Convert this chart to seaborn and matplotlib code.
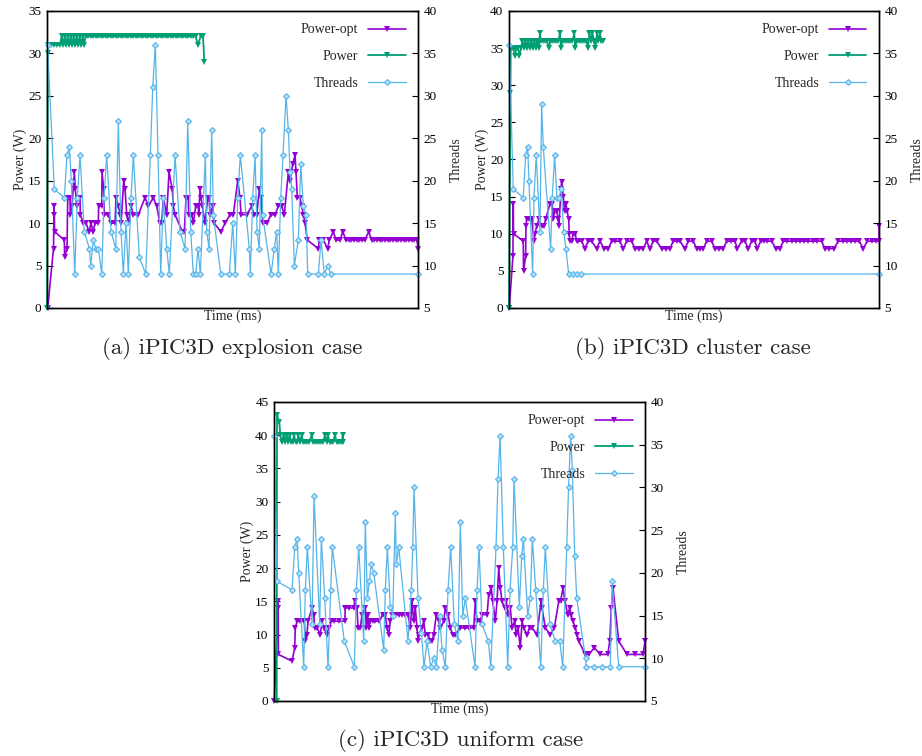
import matplotlib
matplotlib.use("Agg")
import matplotlib.pyplot as plt
from matplotlib.lines import Line2D
import seaborn as sns

# ---------------- (a) explosion case ----------------
a_pwr_t = [0, 0.7, 1.2, 4, 7, 10, 13, 14.5, 16, 17.5, 19, 20.5, 22, 23.5, 25, 26.5, 28, 29.5, 31, 32.5,
           34, 35.5, 37, 38.5, 41, 43.5, 46, 48.5, 51, 53.5, 56, 58.5, 61, 63.5, 66, 68.5, 71, 73.5, 76,
           78.5, 81, 83.5, 86, 88.5, 91, 93.5, 96, 98.5, 101, 103.5, 106, 108.5, 111, 113.5, 116, 118.5,
           121, 123.5, 126, 128.5, 131, 133.5, 136, 138.5, 141, 143.5, 146, 148.5, 151, 153.5, 156, 157.3]
a_pwr_w = [0, 30, 31, 31, 31, 31, 31, 32, 31, 32, 31, 32, 31, 32, 31, 32, 31, 32, 31, 32,
           31, 32, 31, 32, 32, 32, 32, 32, 32, 32, 32, 32, 32, 32, 32, 32, 32, 32, 32,
           32, 32, 32, 32, 32, 32, 32, 32, 32, 32, 32, 32, 32, 32, 32, 32, 32,
           32, 32, 32, 32, 32, 32, 32, 32, 32, 32, 32, 32, 31, 32, 32, 29]

a_opt_t = [0.7, 6.5, 7, 7.3, 7.6, 17.3, 17.6, 20, 20.7, 23, 23.3, 25, 27.3, 28.3, 29.7, 31, 33, 33.3,
           36.3, 39, 42, 44, 46, 48, 51.3, 51.6, 54.7, 55, 56.7, 57.3, 61.3, 64, 68, 69, 71.3, 73.3,
           74, 76.7, 78, 79.7, 81.3, 84, 86.3, 91.3, 98, 101.3, 106.3, 109.7, 113, 114.7, 116.3,
           119.7, 122, 125.3, 126.3, 128, 135.3, 137.3, 139, 141.3, 141.6, 144.7, 146.3, 148.7,
           151.3, 151.6, 153, 154, 155.3, 158, 160.7, 162, 163, 165.7, 167, 174, 178, 183, 186.3,
           190.7, 193, 194, 199.7, 204.7, 206.7, 209.7, 212.3, 214, 215.7, 219.7, 224, 228, 231.3,
           234.7, 237.3, 241.3, 243, 245.7, 248, 249, 250.3, 253, 254.7, 256.3, 258, 260.3, 271.3,
           272.3, 276.3, 280.7, 282.3, 286.3, 289, 293, 295.7, 299, 301.7, 304.3, 307, 309.7, 312.3,
           315, 317.7, 321.7, 324.7, 327.3, 330, 332.7, 335.3, 338, 340.7, 343.3, 346, 348.7, 351.3,
           354, 356.7, 359.3, 362, 364.7, 367.3, 370, 371]
a_opt_w = [0, 7, 12, 11, 9, 8, 6, 7, 13, 13, 11, 12, 16, 14, 12, 13, 13, 11,
           10, 10, 9, 10, 9, 10, 10, 12, 12, 16, 14, 11, 11, 10, 10, 13, 12, 11,
           10, 15, 14, 11, 10, 12, 11, 11, 13, 12, 13, 12, 10, 10, 13,
           11, 16, 14, 12, 11, 9, 9, 13, 13, 11, 11, 10, 12,
           12, 11, 14, 13, 12, 10, 13, 13, 11, 12, 10, 9, 10, 11, 11,
           15, 13, 11, 11, 12, 11, 11, 14, 13, 10, 10, 11, 11, 12,
           12, 11, 16, 15, 17, 18, 16, 13, 13, 12, 11, 10, 8, 7,
           8, 8, 7, 8, 9, 8, 8, 9, 8, 8, 8, 8, 8, 8,
           8, 8, 9, 8, 8, 8, 8, 8, 8, 8, 8, 8, 8, 8,
           8, 8, 8, 8, 8, 8, 8, 7]

a_thr_t = [0.5, 7.3, 17.3, 20, 22.3, 24.3, 27.7, 30.3, 33, 37.3, 42.3, 43.7, 46.3, 48.7, 51.3, 54.7,
           57, 59.7, 64, 68.7, 71.3, 74, 76.3, 79, 81.3, 84, 86.3, 92.3, 98.7, 103.3, 105.7, 108.3,
           111, 113.7, 116.3, 119.7, 122.3, 128, 133, 138, 140.7, 143.7, 146.3, 148.7, 151, 153.3,
           158.3, 159.7, 162, 164.7, 166.3, 173.7, 182.3, 185.7, 188.3, 190.7, 193.3, 202.3, 203.3,
           205.7, 208, 210, 212.3, 214.7, 215.5, 224, 227.3, 229.7, 231.3, 233.7, 236, 239, 241.3,
           243, 244.7, 247.3, 251.3, 253.7, 256.3, 259, 260.7, 271.3, 274, 277.3, 280.7, 283.7, 371]
a_thr_n = [36, 19, 18, 23, 24, 20, 9, 18, 23, 14, 12, 10, 13, 12, 12, 9, 18, 23, 14, 12,
           27, 14, 9, 15, 9, 18, 23, 11, 9, 23, 31, 36, 23, 9, 18, 12, 9, 23, 14, 12,
           27, 14, 9, 9, 12, 9, 23, 14, 12, 26, 16, 9, 9, 15, 9, 18, 23, 12, 9, 18,
           23, 14, 12, 26, 16, 9, 12, 14, 9, 18, 23, 30, 26, 21, 19, 10, 13, 22, 17, 16,
           9, 9, 13, 9, 10, 9, 9]

# ---------------- (b) cluster case ----------------
b_pwr_t = [0, 1.5, 1.8, 3, 4.5, 6, 7.5, 9, 10.5, 12, 13.5, 15, 16.5, 18, 19.5, 21, 22.5, 24, 25.5, 27,
           28.5, 30, 31, 32, 34, 36, 38, 40, 41.5, 43.5, 45.5, 47.5, 49.5, 51, 52, 53.5, 55.5, 57.5,
           59.5, 61.5, 63.5, 65.3, 66.3, 67.5, 69.5, 71.5, 73.5, 75.5, 77.5, 79, 80.5, 82, 83.5, 85,
           86.5, 88, 89.5, 91, 92.5, 94]
b_pwr_w = [0, 29, 35, 35, 35, 34, 35, 35, 34, 35, 36, 35, 36, 35, 36, 35, 36, 35, 36, 35,
           36, 35, 37, 36, 36, 36, 36, 35, 36, 36, 36, 36, 36, 37, 35, 36, 36, 36,
           36, 36, 36, 37, 35, 36, 36, 36, 36, 36, 36, 35, 37, 36, 37, 36,
           35, 37, 36, 37, 36, 36]

b_opt_t = [0.3, 4, 4.3, 4.6, 14.3, 14.6, 16.7, 17, 17.7, 20, 22.7, 25, 26, 27.7, 30, 32.7, 35, 36.7,
           41, 43.3, 44.3, 45.7, 47.7, 49.3, 50, 52, 52.7, 54.3, 55.7, 57, 58.3, 59.7, 60.3, 61,
           62.7, 64.3, 66.3, 67.7, 69.3, 72.7, 76, 79.3, 82.7, 87.7, 91, 95, 99.3, 102.7, 106, 111,
           114.3, 117.7, 122.7, 126, 130.3, 134.3, 137.7, 141, 144.3, 147.7, 152.7, 157, 161, 164.3,
           168.3, 171, 176, 179.3, 184.3, 187.7, 191, 194.3, 197.7, 202.7, 206, 210.3, 214.3, 217.7,
           221.7, 226, 228.3, 232.7, 236, 239.3, 242.7, 246, 248.3, 251.7, 255, 258.3, 262.7, 267,
           271, 274.3, 278.3, 282.7, 287, 291, 295, 299.3, 303.7, 307.7, 312.7, 316, 320.3, 325,
           329.3, 333.7, 337.7, 341.7, 346, 350.3, 354.3, 358.3, 362.7, 367, 370, 370.3]
b_opt_w = [0, 7, 14, 10, 9, 5, 7, 11, 12, 12, 12, 9, 10, 11, 12, 11, 11, 12,
           14, 14, 12, 13, 13, 12, 11, 16, 17, 15, 13, 14, 13, 12, 10, 9,
           9, 10, 10, 9, 9, 9, 8, 9, 9, 8, 9, 8, 8, 9, 9, 9,
           8, 9, 9, 8, 8, 8, 9, 8, 9, 9, 8, 8, 8, 9,
           9, 9, 8, 9, 9, 8, 8, 8, 9, 9, 8, 8, 8, 9,
           9, 9, 8, 9, 9, 8, 9, 9, 8, 9, 9, 9, 9, 8,
           8, 9, 9, 9, 9, 9, 9, 9, 9, 9, 9, 8, 8, 8,
           9, 9, 9, 9, 9, 9, 8, 9, 9, 9, 9, 11]

b_thr_t = [0.3, 4.3, 14.3, 16.7, 18.7, 20, 23.7, 25, 27.3, 31, 32.7, 34.3, 41.7, 43.3, 45.7, 48, 50,
           52.3, 54.7, 57, 59.7, 63.7, 67.7, 72, 370]
b_thr_n = [36, 19, 18, 23, 24, 20, 9, 18, 23, 14, 29, 24, 12, 18, 23, 18, 18,
           19, 14, 12, 9, 9, 9, 9, 9]

# ---------------- (c) uniform case ----------------
c_pwr_t = [2.7, 3, 5.3, 6.3, 8, 9.5, 11, 12.5, 14, 15.5, 17, 18.5, 20, 21.5, 23, 24.3, 26, 27.7, 29,
           31, 33, 35, 37.7, 39, 41, 43, 45, 47, 49, 51, 52.5, 54, 55.5, 57, 59, 61, 62.5, 64, 66,
           68, 68.7, 69.3]
c_pwr_w = [0, 43, 42, 40, 39, 40, 39, 40, 39, 40, 39, 39, 40, 39, 39, 40, 39, 40, 39,
           39, 39, 39, 40, 39, 39, 39, 39, 39, 39, 40, 39, 40, 39, 39, 39, 40, 39, 39, 39,
           39, 40, 39]

c_opt_t = [0.3, 4, 4.2, 4.4, 18, 20.7, 21.3, 23, 26.3, 30.3, 31.3, 33, 34, 38, 39.7, 40.7, 43, 46.3,
           48, 49.7, 53, 54.7, 57.3, 60.3, 65, 70.7, 71.3, 75, 79.7, 80.7, 83, 84, 86.3, 88, 91.3,
           92.3, 93.5, 94.7, 96.3, 99, 101.3, 105, 108.7, 111.3, 113, 114.7, 116.3, 118, 121.3,
           124.7, 128, 131, 134, 136.3, 138, 139.7, 141.3, 143, 144, 144.7, 148, 149.7, 151.3, 154,
           156.3, 158, 159.7, 162.3, 164.7, 166.3, 169.7, 171.3, 174, 176.3, 178.7, 181.3, 186.3,
           191.3, 195, 199.7, 201.3, 203, 206.3, 208, 213, 214.7, 217.3, 218.7, 221.3, 223, 224.7,
           226.3, 228, 230.7, 232.3, 234, 236.3, 238, 240.7, 242, 244, 246.3, 248, 249.7, 253,
           255.5, 258, 263, 267, 268, 271.3, 276.3, 280.3, 284.7, 286.5, 289, 291, 293.7, 295.7,
           297, 299, 301.3, 303, 304.7, 311.3, 314.7, 320.3, 326.3, 333.7, 335.7, 337.3, 339,
           344.7, 353, 361.3, 369, 371]
c_opt_w = [0, 15, 14, 7, 6, 8, 11, 12, 12, 12, 9, 10, 12, 14, 13, 11, 11, 10,
           12, 11, 10, 11, 12, 12, 12, 12, 14, 14, 14, 15, 14, 11, 11, 13, 14,
           11, 13, 11, 12, 12, 12, 12, 13, 13, 11, 10, 12, 13, 13,
           13, 13, 13, 13, 11, 15, 12, 14, 11, 9, 10, 11, 12, 10, 10,
           9, 9, 10, 13, 12, 11, 12, 14, 13, 11, 10, 10, 11,
           11, 11, 11, 15, 12, 12, 13, 13, 16, 17, 15, 12, 15, 20,
           17, 15, 14, 15, 13, 14, 11, 12, 10, 11, 8, 12, 11, 10,
           11, 11, 10, 15, 14, 11, 10, 11, 15, 15, 17, 15, 13, 14,
           13, 12, 11, 10, 9, 7, 7, 8, 7, 7, 9, 14, 17,
           9, 7, 7, 7, 9]

c_thr_t = [0.3, 3, 18, 20.7, 23, 24.7, 29.7, 31.3, 33.3, 38, 40, 45.7, 47.3, 50.7, 54, 56.7, 58.3,
           70.3, 80.3, 82.3, 84.7, 89.7, 91.3, 93.3, 95.3, 97.3, 99.7, 109.7, 111.3, 113.3, 116.3,
           118.7, 121.3, 122.3, 124.7, 134, 137.3, 138.7, 140, 144, 147.3, 150, 153, 156.7, 159.7,
           162.3, 165.7, 168, 171.3, 174, 176.7, 180.3, 184, 186.3, 188.7, 191.3, 201, 203, 205,
           208, 214.3, 216.7, 222, 224, 226, 229.3, 233.7, 236, 238.7, 240, 245.3, 247.7, 249.3,
           253.7, 256.3, 258.3, 261.7, 266.7, 269.3, 271.3, 275.7, 281.3, 285.7, 288.7, 292.7,
           294.5, 296.7, 298.3, 300.7, 302.7, 311.5, 312, 319.7, 328, 336.3, 338, 344.7, 371]
c_thr_n = [36, 19, 18, 23, 24, 20, 9, 18, 23, 14, 29, 14, 24, 17, 9, 18, 23,
           12, 9, 18, 23, 12, 26, 17, 19, 21, 20, 11, 18, 23, 16,
           15, 27, 21, 23, 12, 18, 23, 30, 17, 13, 9, 12, 9, 10,
           9, 15, 11, 9, 18, 23, 14, 12, 26, 15, 17, 9, 18, 23,
           14, 12, 9, 23, 31, 36, 23, 9, 18, 23, 31, 16, 22, 24,
           15, 17, 24, 18, 9, 18, 23, 14, 12, 12, 9, 23,
           30, 36, 32, 22, 17, 10, 9, 9, 9, 9, 19, 9, 9]

captions = ["(a) iPIC3D explosion case", "(b) iPIC3D cluster case", "(c) iPIC3D uniform case"]
series_names = ["Power-opt", "Power", "Threads"]

c_opt, c_pwr, c_thr = "#9400d3", "#009e73", "#56b4e9"

sns.set_style("white")
plt.rcParams["font.family"] = ["Liberation Serif", "DejaVu Serif"]

fig = plt.figure(figsize=(9.22, 7.56), dpi=100)

panels = [
    dict(rect=[0.051, 0.5926, 0.4024, 0.3929], xmax=371, ymax=35,
         opt=(a_opt_t, a_opt_w), pwr=(a_pwr_t, a_pwr_w), thr=(a_thr_t, a_thr_n), cap=(0.252, 0.539)),
    dict(rect=[0.552, 0.5926, 0.4013, 0.3929], xmax=370, ymax=40,
         opt=(b_opt_t, b_opt_w), pwr=(b_pwr_t, b_pwr_w), thr=(b_thr_t, b_thr_n), cap=(0.751, 0.539)),
    dict(rect=[0.2972, 0.0728, 0.4024, 0.3955], xmax=371, ymax=45,
         opt=(c_opt_t, c_opt_w), pwr=(c_pwr_t, c_pwr_w), thr=(c_thr_t, c_thr_n), cap=(0.5, 0.021)),
]

for i, p in enumerate(panels):
    ax = fig.add_axes(p["rect"])
    ax2 = ax.twinx()

    sns.lineplot(x=p["opt"][0], y=p["opt"][1], ax=ax, color=c_opt, lw=1.2, marker="v",
                 markersize=4.8, markeredgewidth=0, estimator=None, sort=False, legend=False,
                 clip_on=False, zorder=3)
    sns.lineplot(x=p["pwr"][0], y=p["pwr"][1], ax=ax, color=c_pwr, lw=1.3, marker="v",
                 markersize=4.8, markeredgewidth=0, estimator=None, sort=False, legend=False,
                 clip_on=False, zorder=4)
    sns.lineplot(x=p["thr"][0], y=p["thr"][1], ax=ax2, color=c_thr, lw=0.9, marker="D",
                 markersize=3, markeredgewidth=0.8, markeredgecolor=c_thr,
                 markerfacecolor="#b5e0f7", estimator=None, sort=False, legend=False,
                 clip_on=False)

    ax.set_xlim(0, p["xmax"])
    ax.set_ylim(0, p["ymax"])
    ax2.set_ylim(5, 40)
    ax.set_yticks(range(0, p["ymax"] + 1, 5))
    ax2.set_yticks(range(5, 41, 5))
    ax.set_xticks([])
    ax.set_xlabel("Time (ms)", fontsize=10, labelpad=1)
    ax.set_ylabel("Power (W)", fontsize=10, labelpad=1)
    ax2.set_ylabel("Threads", fontsize=10, labelpad=9)
    for a in (ax, ax2):
        a.tick_params(axis="y", direction="in", length=4, width=0.8, labelsize=9.5, pad=4, colors="black")
        for s in a.spines.values():
            s.set_color("black")
            s.set_linewidth(1.0)

    handles = [
        Line2D([], [], color=c_opt, lw=1.2, marker="v", markersize=4.8, markeredgewidth=0),
        Line2D([], [], color=c_pwr, lw=1.3, marker="v", markersize=4.8, markeredgewidth=0),
        Line2D([], [], color=c_thr, lw=0.9, marker="D", markersize=3, markeredgewidth=0.8,
               markeredgecolor=c_thr, markerfacecolor="#b5e0f7"),
    ]
    ax2.legend(handles, series_names, loc="upper right", frameon=False, markerfirst=False,
               fontsize=10, handlelength=2.7, labelspacing=1.0, borderaxespad=0.5,
               handletextpad=0.7)

    fig.text(p["cap"][0], p["cap"][1], captions[i], ha="center", va="center",
             fontsize=16.5, family="cmr10")

fig.savefig("out.png", dpi=100)
